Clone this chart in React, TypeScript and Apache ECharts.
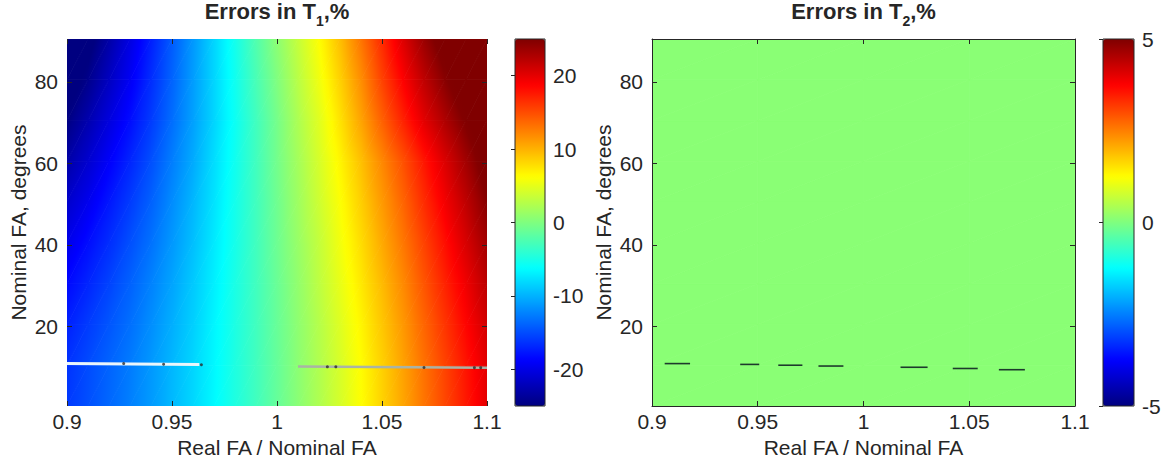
import React, { useEffect, useRef } from "react";
import * as echarts from "echarts";

// ---------- data ----------
const FA_RATIO = [0.9, 0.91, 0.92, 0.93, 0.94, 0.95, 0.96, 0.97, 0.98, 0.99, 1.0, 1.01, 1.02, 1.03, 1.04, 1.05, 1.06, 1.07, 1.08, 1.09, 1.1];
const NOMINAL_FA = [0.5, 10.5, 20.5, 30.5, 40.5, 50.5, 60.5, 70.5, 80.5, 90.5];

// T1 error (%) sampled at each NOMINAL_FA (bottom to top) and FA_RATIO column
const T1_FA_00 = [-16.0, -14.9, -13.7, -12.5, -11.2, -9.7, -8.2, -6.5, -4.8, -3.1, -1.3, 0.5, 2.3, 4.2, 6.2, 8.4, 10.6, 13.0, 15.3, 17.6, 20.0];
const T1_FA_10 = [-16.3, -15.1, -13.9, -12.7, -11.3, -9.8, -8.3, -6.6, -4.8, -3.1, -1.3, 0.6, 2.4, 4.3, 6.3, 8.5, 10.8, 13.2, 15.5, 17.8, 20.2];
const T1_FA_20 = [-17.2, -15.9, -14.6, -13.3, -11.8, -10.2, -8.6, -6.7, -4.9, -3.1, -1.2, 0.7, 2.6, 4.6, 6.7, 9.0, 11.3, 13.8, 16.2, 18.6, 21.0];
const T1_FA_30 = [-18.4, -17.0, -15.5, -14.0, -12.4, -10.7, -8.9, -7.0, -5.0, -3.1, -1.1, 0.9, 3.0, 5.1, 7.3, 9.6, 12.0, 14.6, 17.1, 19.5, 22.1];
const T1_FA_40 = [-19.8, -18.2, -16.6, -14.9, -13.2, -11.3, -9.4, -7.3, -5.2, -3.1, -0.9, 1.2, 3.3, 5.6, 7.9, 10.4, 12.9, 15.5, 18.1, 20.7, 23.3];
const T1_FA_50 = [-21.3, -19.6, -17.7, -15.9, -14.0, -11.9, -9.8, -7.6, -5.3, -3.1, -0.8, 1.5, 3.8, 6.1, 8.6, 11.2, 13.8, 16.6, 19.3, 21.9, 24.7];
const T1_FA_60 = [-23.1, -21.1, -19.0, -17.0, -14.9, -12.6, -10.4, -7.9, -5.5, -3.1, -0.6, 1.8, 4.2, 6.7, 9.3, 12.1, 14.8, 17.7, 20.5, 23.3, 26.2];
const T1_FA_70 = [-24.9, -22.7, -20.4, -18.2, -15.9, -13.4, -10.9, -8.3, -5.7, -3.1, -0.5, 2.2, 4.7, 7.6, 10.7, 14.0, 17.1, 20.1, 22.7, 25.2, 27.8];
const T1_FA_80 = [-26.8, -24.4, -21.8, -19.3, -16.6, -13.9, -11.1, -8.3, -5.5, -2.7, 0.0, 2.8, 5.5, 8.5, 11.8, 15.5, 18.8, 21.9, 24.6, 27.1, 29.5];
const T1_FA_90 = [-28.8, -26.0, -23.1, -20.2, -17.3, -14.3, -11.3, -8.3, -5.3, -2.3, 0.6, 3.4, 6.2, 9.4, 13.0, 16.7, 20.4, 23.7, 26.4, 29.0, 31.2];
const T1_ROWS = [T1_FA_00, T1_FA_10, T1_FA_20, T1_FA_30, T1_FA_40, T1_FA_50, T1_FA_60, T1_FA_70, T1_FA_80, T1_FA_90];

// T2 error (%) - essentially uniform
const T2_FA_RATIO = [0.9, 0.95, 1.0, 1.05, 1.1];
const T2_ROWS = [
  [0.1, 0.1, 0.1, 0.1, 0.1],
  [0.1, 0.1, 0.1, 0.1, 0.1],
  [0.1, 0.1, 0.1, 0.1, 0.1],
  [0.1, 0.1, 0.1, 0.1, 0.1],
  [0.1, 0.1, 0.1, 0.1, 0.1],
  [0.1, 0.1, 0.1, 0.1, 0.1],
  [0.1, 0.1, 0.1, 0.1, 0.1],
  [0.1, 0.1, 0.1, 0.1, 0.1],
  [0.1, 0.1, 0.1, 0.1, 0.1],
  [0.1, 0.1, 0.1, 0.1, 0.1],
];

// artefact streaks near FA = 10 degrees
const T1_STREAK_LIGHT = [[0.9, 10.9], [0.963, 10.7]];
const T1_STREAK_GREY = [[1.01, 10.2], [1.1, 9.9]];
const T1_DOTS = [[0.927, 10.9], [0.946, 10.75], [0.964, 10.6], [1.024, 10.1], [1.028, 10.1], [1.07, 9.95], [1.094, 9.9], [1.097, 9.9]];
const T2_STREAKS = [
  [0.906, 0.918, 10.9],
  [0.9417, 0.9507, 10.7],
  [0.9597, 0.9711, 10.5],
  [0.9787, 0.9905, 10.3],
  [1.0175, 1.0303, 10.0],
  [1.0422, 1.054, 9.7],
  [1.064, 1.0763, 9.4],
];

const Y_TICKS = [20, 40, 60, 80];
const T1_CB_TICKS = [-20, -10, 0, 10, 20];
const T2_CB_TICKS = [-5, 0, 5];
const T1_RANGE = [-25, 25];
const T2_RANGE = [-5, 5];

// ---------- style / layout ----------
const FONT = "Liberation Sans, Arial, Helvetica, sans-serif";
const TXT = "#262626";
const JET = ["#00007f", "#0000ff", "#007fff", "#00ffff", "#7fff7f", "#ffff00", "#ff7f00", "#ff0000", "#7f0000"];
const FS = 21;

const G_L = { left: 67, top: 39, width: 420, height: 367 };
const CB_L = { left: 515, top: 39, width: 30, height: 367 };
const G_R = { left: 652, top: 39, width: 423, height: 367 };
const CB_R = { left: 1103, top: 39, width: 31, height: 367 };

function jet(v: number, min: number, max: number) {
  const t = Math.min(1, Math.max(0, (v - min) / (max - min)));
  const c = (k: number) => Math.round(255 * Math.min(1, Math.max(0, 1.5 - Math.abs(4 * t - k))));
  return `rgb(${c(3)},${c(2)},${c(1)})`;
}

function buildQuads(xs: number[], ys: number[], rows: number[][]) {
  const out: number[][] = [];
  for (let r = 0; r < ys.length - 1; r++) {
    for (let i = 0; i < xs.length - 1; i++) {
      out.push([xs[i], xs[i + 1], ys[r], ys[r + 1], rows[r][i], rows[r][i + 1], rows[r + 1][i], rows[r + 1][i + 1]]);
    }
  }
  return out;
}

// colour of a triangle whose corner values define a plane: linear gradient along the plane's slope
function triFill(p: number[][], v: number[], range: number[]) {
  const [p1, p2, p3] = p;
  const e1x = p2[0] - p1[0], e1y = p2[1] - p1[1];
  const e2x = p3[0] - p1[0], e2y = p3[1] - p1[1];
  const dv1 = v[1] - v[0], dv2 = v[2] - v[0];
  const det = e1x * e2y - e1y * e2x;
  if (Math.abs(det) < 1e-9) return jet(v[0], range[0], range[1]);
  const gx = (dv1 * e2y - e1y * dv2) / det;
  const gy = (e1x * dv2 - e2x * dv1) / det;
  const gm = Math.hypot(gx, gy);
  if (gm < 1e-9) return jet(v[0], range[0], range[1]);
  const ux = gx / gm, uy = gy / gm;
  const s = p.map((q) => (q[0] - p1[0]) * ux + (q[1] - p1[1]) * uy);
  const smin = Math.min(...s), smax = Math.max(...s);
  if (smax - smin < 1e-6) return jet(v[0], range[0], range[1]);
  const vs = v[0] + smin * gm, ve = v[0] + smax * gm;
  const N = 6;
  const stops = [];
  for (let k = 0; k <= N; k++) stops.push({ offset: k / N, color: jet(vs + ((ve - vs) * k) / N, range[0], range[1]) });
  return new echarts.graphic.LinearGradient(p1[0] + ux * smin, p1[1] + uy * smin, p1[0] + ux * smax, p1[1] + uy * smax, stops, true);
}

const quadRenderer = (range: number[]) => (params: any, api: any) => {
  const x0 = api.value(0), x1 = api.value(1), y0 = api.value(2), y1 = api.value(3);
  const v00 = api.value(4), v10 = api.value(5), v01 = api.value(6), v11 = api.value(7);
  const BL = api.coord([x0, y0]), BR = api.coord([x1, y0]);
  const TL = api.coord([x0, y1]), TR = api.coord([x1, y1]);
  const poly = (pts: number[][], vals: number[]) => ({
    type: "polygon",
    shape: { points: pts },
    style: { fill: triFill(pts, vals, range), stroke: triFill(pts, vals, range), lineWidth: 0.8 },
  });
  return {
    type: "group",
    children: [poly([BL, BR, TR], [v00, v10, v11]), poly([BL, TR, TL], [v00, v11, v01])],
  };
};

const labelStyle = { color: TXT, fontSize: FS, fontFamily: FONT };
const tickStyle = { color: TXT, width: 1 };

function mainAxes(gridIndex: number, frame: boolean) {
  const line = { show: frame, lineStyle: { color: TXT, width: 1 } };
  const xAxes = [
    {
      type: "value", gridIndex, min: 0.9, max: 1.1, interval: 0.05, position: "bottom",
      axisLine: line, axisTick: { show: true, inside: true, length: 5, lineStyle: tickStyle },
      axisLabel: { ...labelStyle, margin: 5 }, splitLine: { show: false },
      name: "Real FA / Nominal FA", nameLocation: "middle", nameGap: 30,
      nameTextStyle: { ...labelStyle }, z: 10,
    },
    {
      type: "value", gridIndex, min: 0.9, max: 1.1, interval: 0.05, position: "top",
      axisLine: line, axisTick: { show: true, inside: true, length: 5, lineStyle: tickStyle },
      axisLabel: { show: false }, splitLine: { show: false }, z: 10,
    },
  ];
  const yAxes = [
    {
      type: "value", gridIndex, min: 0.5, max: 90.5, position: "left",
      axisLine: line,
      axisTick: { show: true, inside: true, length: 5, lineStyle: tickStyle, customValues: Y_TICKS },
      axisLabel: { ...labelStyle, margin: 9, customValues: Y_TICKS }, splitLine: { show: false },
      name: "Nominal FA, degrees", nameLocation: "middle", nameGap: 38, nameRotate: 90,
      nameTextStyle: { ...labelStyle }, z: 10,
    },
    {
      type: "value", gridIndex, min: 0.5, max: 90.5, position: "right",
      axisLine: line,
      axisTick: { show: true, inside: true, length: 5, lineStyle: tickStyle, customValues: Y_TICKS },
      axisLabel: { show: false, customValues: Y_TICKS }, splitLine: { show: false }, z: 10,
    },
  ];
  return { xAxes, yAxes };
}

function cbAxes(gridIndex: number, range: number[], ticks: number[]) {
  return {
    x: { type: "value", gridIndex, min: 0, max: 1, show: false },
    y: {
      type: "value", gridIndex, min: range[0], max: range[1], position: "right",
      axisLine: { show: false },
      axisTick: { show: true, inside: true, length: 4, lineStyle: tickStyle, customValues: ticks },
      axisLabel: { ...labelStyle, margin: 8, customValues: ticks },
      splitLine: { show: false }, z: 10,
    },
  };
}

function titleText(x: number, sub: string) {
  return {
    type: "text",
    x,
    y: 0,
    z: 20,
    style: {
      text: `{a|Errors in T}{s|${sub}}{a|,%}`,
      align: "center",
      verticalAlign: "top",
      rich: {
        a: { fontSize: 22, fontWeight: "bold", fontFamily: FONT, fill: TXT, lineHeight: 28, verticalAlign: "top" },
        s: { fontSize: 14, fontWeight: "bold", fontFamily: FONT, fill: TXT, lineHeight: 14, verticalAlign: "bottom", padding: [17, 0, 0, 0] },
      },
    },
  };
}

export default function App() {
  const ref = useRef<HTMLDivElement>(null);

  useEffect(() => {
    if (!ref.current) return;
    const chart = echarts.init(ref.current, undefined, { renderer: "svg" });

    const t1Quads = buildQuads(FA_RATIO, NOMINAL_FA, T1_ROWS);
    const t2Quads = buildQuads(T2_FA_RATIO, NOMINAL_FA, T2_ROWS);

    const L = mainAxes(0, false);
    const R = mainAxes(2, true);
    const cbl = cbAxes(1, T1_RANGE, T1_CB_TICKS);
    const cbr = cbAxes(3, T2_RANGE, T2_CB_TICKS);

    const quadDims = ["x0", "x1", "y0", "y1", "v00", "v10", "v01", "v11"];

    const option: any = {
      animation: false,
      backgroundColor: "#ffffff",
      textStyle: { fontFamily: FONT },
      grid: [
        { ...G_L },
        { ...CB_L, show: true, borderColor: TXT, borderWidth: 1, backgroundColor: "transparent", z: 10 },
        { ...G_R },
        { ...CB_R, show: true, borderColor: TXT, borderWidth: 1, backgroundColor: "transparent", z: 10 },
      ],
      xAxis: [L.xAxes[0], L.xAxes[1], cbl.x, R.xAxes[0], R.xAxes[1], cbr.x],
      yAxis: [L.yAxes[0], L.yAxes[1], cbl.y, R.yAxes[0], R.yAxes[1], cbr.y],
      visualMap: [
        {
          type: "continuous", min: T1_RANGE[0], max: T1_RANGE[1], seriesIndex: 0, dimension: 4,
          left: CB_L.left, top: CB_L.top, itemWidth: CB_L.width, itemHeight: CB_L.height,
          calculable: false, padding: 0, inRange: { color: JET }, hoverLink: false,
        },
        {
          type: "continuous", min: T2_RANGE[0], max: T2_RANGE[1], seriesIndex: 4, dimension: 4,
          left: CB_R.left, top: CB_R.top, itemWidth: CB_R.width, itemHeight: CB_R.height,
          calculable: false, padding: 0, inRange: { color: JET }, hoverLink: false,
        },
      ],
      graphic: [titleText(G_L.left + G_L.width / 2, "1"), titleText(G_R.left + G_R.width / 2, "2")],
      series: [
        {
          type: "custom", xAxisIndex: 0, yAxisIndex: 0, data: t1Quads, clip: true, silent: true,
          dimensions: quadDims, encode: { x: [0, 1], y: [2, 3] },
          renderItem: quadRenderer(T1_RANGE), z: 1,
        },
        {
          type: "line", xAxisIndex: 0, yAxisIndex: 0, data: T1_STREAK_LIGHT, symbol: "none", silent: true,
          lineStyle: { color: "#eaf6fb", width: 3 }, z: 3,
        },
        {
          type: "line", xAxisIndex: 0, yAxisIndex: 0, data: T1_STREAK_GREY, symbol: "none", silent: true,
          lineStyle: { color: "#a9b3a6", width: 2.5 }, z: 3,
        },
        {
          type: "scatter", xAxisIndex: 0, yAxisIndex: 0, data: T1_DOTS, symbolSize: 3, silent: true,
          itemStyle: { color: "#2a2a2a" }, z: 4,
        },
        {
          type: "custom", xAxisIndex: 3, yAxisIndex: 3, data: t2Quads, clip: true, silent: true,
          dimensions: quadDims, encode: { x: [0, 1], y: [2, 3] },
          renderItem: quadRenderer(T2_RANGE), z: 1,
        },
        {
          type: "custom", xAxisIndex: 3, yAxisIndex: 3, data: T2_STREAKS, clip: true, silent: true,
          encode: { x: [0, 1], y: 2 },
          renderItem: (params: any, api: any) => {
            const a = api.coord([api.value(0), api.value(2)]);
            const b = api.coord([api.value(1), api.value(2)]);
            return {
              type: "line",
              shape: { x1: a[0], y1: a[1], x2: b[0], y2: b[1] },
              style: { stroke: "#1d3a2c", lineWidth: 1.6 },
            };
          },
          z: 3,
        },
      ],
    };

    chart.setOption(option);
    return () => chart.dispose();
  }, []);

  return <div ref={ref} style={{ position: "absolute", left: 0, top: 0, width: 1168, height: 472 }} />;
}
